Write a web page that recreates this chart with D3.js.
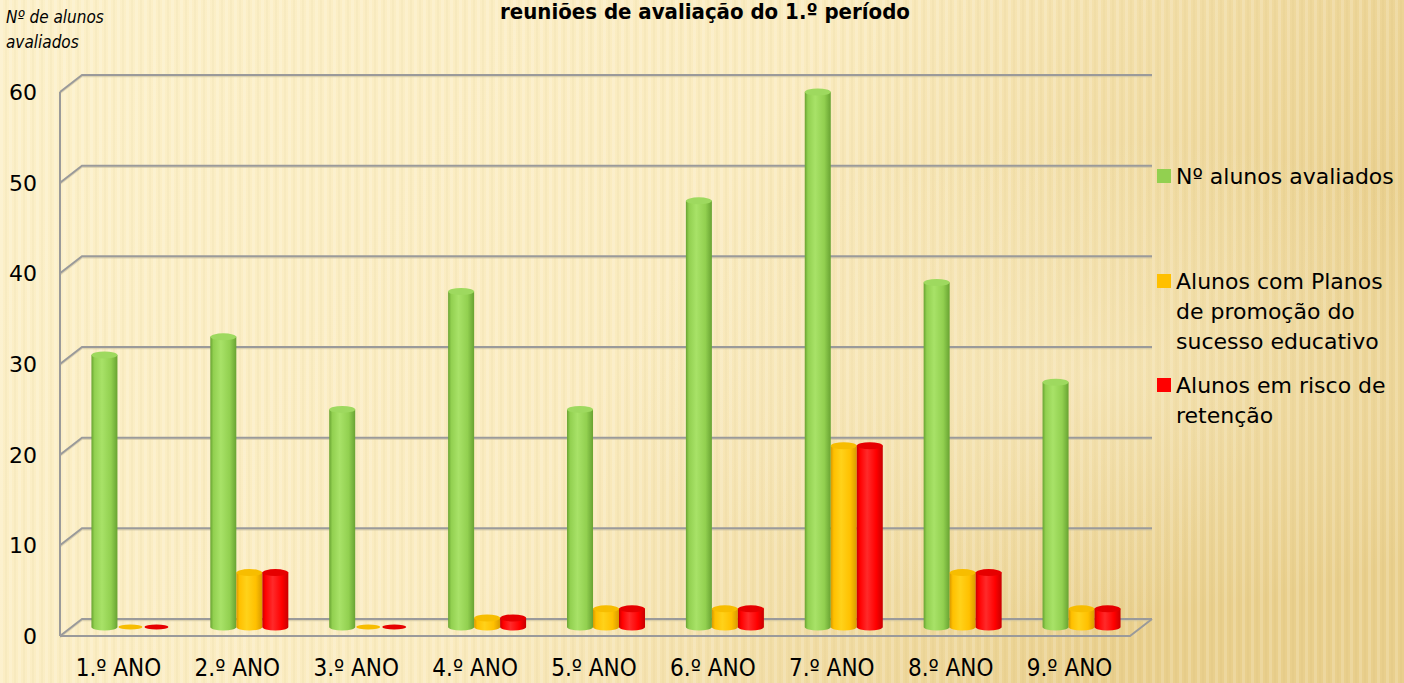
<!DOCTYPE html>
<html>
<head>
<meta charset="utf-8">
<script src="https://cdn.jsdelivr.net/npm/d3@7"></script>
<style>
  html, body { margin: 0; padding: 0; overflow: hidden; }
  svg { display: block; }
</style>
</head>
<body>
<svg id="chart" width="1404" height="683"></svg>
<script>
const categories = ["1.º ANO","2.º ANO","3.º ANO","4.º ANO","5.º ANO","6.º ANO","7.º ANO","8.º ANO","9.º ANO"];
const avaliados = [30, 32, 24, 37, 24, 47, 59, 38, 27];
const planos    = [0, 6, 0, 1, 2, 2, 20, 6, 2];
const risco     = [0, 6, 0, 1, 2, 2, 20, 6, 2];
const seriesNames = ["Nº alunos avaliados", "Alunos com Planos de promoção do sucesso educativo", "Alunos em risco de retenção"];
const legendLines = [["Nº alunos avaliados"], ["Alunos com Planos", "de promoção do", "sucesso educativo"], ["Alunos em risco de", "retenção"]];
const yTicks = [0, 10, 20, 30, 40, 50, 60];
const titleText = "reuniões de avaliação do 1.º período";
const yLabelLines = ["Nº de alunos", "avaliados"];

const seriesColors = [
  {base:"#92d050", dark:"#68a332", light:"#a8e268", top:"#9ed95f"},
  {base:"#ffc000", dark:"#d99a00", light:"#ffd21a", top:"#f7bd00"},
  {base:"#ff0000", dark:"#c80000", light:"#ff2a2a", top:"#e60000"}
];

const svg = d3.select("#chart");
const W = 1404, H = 683;
const defs = svg.append("defs");

// background
const bg = defs.append("linearGradient").attr("id","bgGrad").attr("x1","0").attr("y1","0").attr("x2","1").attr("y2","0.3");
bg.append("stop").attr("offset","0").attr("stop-color","#fcf0c9");
bg.append("stop").attr("offset","0.55").attr("stop-color","#faebbf");
bg.append("stop").attr("offset","1").attr("stop-color","#e9cf8c");
const pat = defs.append("pattern").attr("id","stripes").attr("patternUnits","userSpaceOnUse").attr("width",9).attr("height",40);
pat.append("rect").attr("x",0).attr("y",0).attr("width",3).attr("height",40).attr("fill","#ffffff").attr("opacity",0.16);
pat.append("rect").attr("x",5).attr("y",0).attr("width",2).attr("height",40).attr("fill","#b89a50").attr("opacity",0.05);
svg.append("rect").attr("width",W).attr("height",H).attr("fill","url(#bgGrad)");
svg.append("rect").attr("width",W).attr("height",H).attr("fill","url(#stripes)");
const glow = defs.append("radialGradient").attr("id","glow").attr("cx","0.78").attr("cy","0.55").attr("r","0.35");
glow.append("stop").attr("offset","0").attr("stop-color","#fff6d8").attr("stop-opacity",0.4);
glow.append("stop").attr("offset","1").attr("stop-color","#fff6d8").attr("stop-opacity",0);
svg.append("rect").attr("width",W).attr("height",H).attr("fill","url(#glow)");

// geometry
const x0 = 60, x1 = 1130;
const dx = 22, dy = -17;
const yFront = d3.scaleLinear().domain([0,60]).range([636, 92]);
const yBack = v => yFront(v) + dy;
const yMid = v => yFront(v) + dy/2 - 0.5;

const xCat = d3.scaleBand().domain(categories).range([x0, x1]).paddingInner(0).paddingOuter(0);
const groupW = 78;
const xSer = d3.scaleBand().domain([0,1,2]).range([0, groupW]);

const gridColor = "#9a9a9a";
const grid = svg.append("g");
yTicks.forEach(t => {
  grid.append("path")
    .attr("d", `M${x0},${yFront(t)+1.5} L${x0+dx},${yBack(t)+1.5} L${x1+dx},${yBack(t)+1.5}`)
    .attr("fill","none").attr("stroke","#c9c0a0").attr("stroke-width",1.5).attr("opacity",0.6);
  grid.append("path")
    .attr("d", `M${x0},${yFront(t)} L${x0+dx},${yBack(t)} L${x1+dx},${yBack(t)}`)
    .attr("fill","none").attr("stroke",gridColor).attr("stroke-width",2);
});
grid.append("line").attr("x1",x0).attr("x2",x0).attr("y1",yFront(60)).attr("y2",yFront(0))
  .attr("stroke",gridColor).attr("stroke-width",2);
grid.append("path")
  .attr("d", `M${x0},${yFront(0)} L${x1},${yFront(0)} L${x1+dx},${yBack(0)}`)
  .attr("fill","none").attr("stroke",gridColor).attr("stroke-width",2);

// gradients for cylinders
seriesColors.forEach((c,i) => {
  const g = defs.append("linearGradient").attr("id","cyl"+i).attr("x1","0").attr("x2","1").attr("y1","0").attr("y2","0");
  g.append("stop").attr("offset","0").attr("stop-color",c.dark);
  g.append("stop").attr("offset","0.12").attr("stop-color",c.base);
  g.append("stop").attr("offset","0.4").attr("stop-color",c.light);
  g.append("stop").attr("offset","0.75").attr("stop-color",c.base);
  g.append("stop").attr("offset","1").attr("stop-color",c.dark);
});

const allSeries = [avaliados, planos, risco];
const bars = svg.append("g");
const ry = 3.5;
categories.forEach((cat, ci) => {
  const gx = xCat(cat) + (xCat.bandwidth() - groupW)/2 + dx/2;
  allSeries.forEach((vals, si) => {
    const v = vals[ci];
    const bx = gx + xSer(si);
    const bw = xSer.bandwidth();
    const cx = bx + bw/2;
    const rx = bw/2;
    const yb = yMid(0);
    const yt = yMid(v);
    const g = bars.append("g");
    if (v > 0) {
      g.append("path")
        .attr("d", `M${bx},${yt} L${bx},${yb} A${rx},${ry} 0 0 0 ${bx+bw},${yb} L${bx+bw},${yt} Z`)
        .attr("fill", `url(#cyl${si})`);
      g.append("ellipse").attr("cx",cx).attr("cy",yt).attr("rx",rx).attr("ry",ry)
        .attr("fill", seriesColors[si].top);
    } else {
      g.append("ellipse").attr("cx",cx).attr("cy",yb).attr("rx",rx-1).attr("ry",ry-1)
        .attr("fill", seriesColors[si].top);
    }
  });
});

// y tick labels
svg.append("g").selectAll("text").data(yTicks).join("text")
  .attr("x", 37).attr("y", d => yFront(d)).attr("dy","0.36em")
  .attr("text-anchor","end")
  .attr("font-family","'DejaVu Sans', Verdana, sans-serif").attr("font-size",22)
  .attr("fill","#000").text(d => d);

// category labels
svg.append("g").selectAll("text").data(categories).join("text")
  .attr("x", d => xCat(d) + xCat.bandwidth()/2 - 1).attr("y", 676)
  .attr("text-anchor","middle")
  .attr("font-family","'Liberation Sans Narrow', 'DejaVu Sans Condensed', sans-serif")
  .attr("font-stretch","condensed")
  .attr("font-size",24).attr("fill","#000").text(d => d);

// title
svg.append("text").attr("x", 705).attr("y", 19).attr("text-anchor","middle")
  .attr("font-family","'Liberation Sans Narrow', 'DejaVu Sans Condensed', sans-serif")
  .attr("font-stretch","condensed").attr("font-weight","bold")
  .attr("font-size",22).attr("fill","#000").text(titleText);

// y axis label
svg.append("g").selectAll("text").data(yLabelLines).join("text")
  .attr("x", 6).attr("y", (d,i) => 23 + i*25)
  .attr("font-family","'Liberation Sans Narrow', 'DejaVu Sans Condensed', sans-serif")
  .attr("font-stretch","condensed").attr("font-style","italic")
  .attr("font-size",17).attr("fill","#000").text(d => d);

// legend
const legendY = [176, 281, 385];
const leg = svg.append("g");
legendLines.forEach((lines, i) => {
  leg.append("rect").attr("x",1157).attr("y",legendY[i]-7).attr("width",14).attr("height",14)
    .attr("fill", seriesColors[i].base);
  lines.forEach((ln, j) => {
    leg.append("text").attr("x",1176).attr("y",legendY[i] + j*30).attr("dy","0.36em")
      .attr("font-family","'DejaVu Sans', Verdana, sans-serif").attr("font-size",22)
      .attr("fill","#000").text(ln);
  });
});
</script>
</body>
</html>
